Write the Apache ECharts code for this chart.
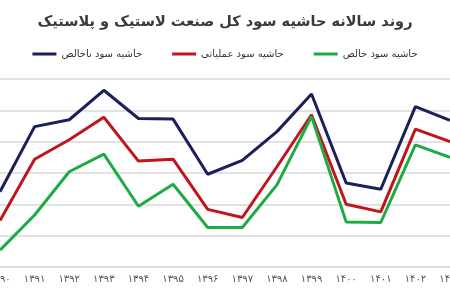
<!DOCTYPE html>
<html>
<head>
<meta charset="utf-8">
<script src="https://cdn.jsdelivr.net/npm/echarts@6/dist/echarts.min.js"></script>
<style>
  html, body { margin: 0; padding: 0; background: #fff; }
  #chart { width: 450px; height: 300px; }
</style>
</head>
<body>
<div id="chart"></div>
<script>
// years on the x axis (Persian digits)
var years = ['۱۳۹۰', '۱۳۹۱', '۱۳۹۲', '۱۳۹۳', '۱۳۹۴', '۱۳۹۵', '۱۳۹۶', '۱۳۹۷', '۱۳۹۸', '۱۳۹۹', '۱۴۰۰', '۱۴۰۱', '۱۴۰۲', '۱۴۰۳'];

// margins (percent, estimated)
var grossMargin = [12.0, 22.4, 23.5, 28.2, 23.7, 23.6, 14.8, 17.0, 21.6, 27.6, 13.4, 12.4, 25.6, 23.4];
var operatingMargin = [7.4, 17.2, 20.3, 23.9, 16.9, 17.2, 9.2, 7.9, 16.0, 24.3, 10.0, 8.8, 22.0, 20.0];
var netMargin = [2.7, 8.3, 15.2, 18.0, 9.7, 13.2, 6.3, 6.3, 13.1, 24.0, 7.2, 7.1, 19.5, 17.5];

var seriesNames = ['حاشیه سود ناخالص', 'حاشیه سود عملیاتی', 'حاشیه سود خالص'];
var seriesColors = ['#1b1f5c', '#c0151d', '#1eab44'];

var chart = echarts.init(document.getElementById('chart'));

var font = 'DejaVu Sans';

function makeLine(name, values, color) {
  return {
    name: name,
    type: 'line',
    data: values,
    symbol: 'none',
    lineStyle: { width: 3, color: color },
    itemStyle: { color: color }
  };
}

var option = {
  backgroundColor: '#fff',
  animation: false,
  title: {
    text: 'روند سالانه حاشیه سود کل صنعت لاستیک و پلاستیک',
    left: 'center',
    top: 10,
    textStyle: {
      fontFamily: font,
      fontSize: 14.5,
      fontWeight: 'bold',
      color: '#3a3a3a'
    }
  },
  legend: {
    data: seriesNames,
    top: 44,
    left: 'center',
    itemWidth: 24,
    itemHeight: 3,
    itemGap: 30,
    icon: 'rect',
    textStyle: { fontFamily: font, fontSize: 10, color: '#333' }
  },
  grid: { left: 0, right: 0, top: 79, bottom: 33, outerBoundsMode: 'none', containLabel: false },
  xAxis: {
    type: 'category',
    data: years,
    boundaryGap: false,
    axisLine: { lineStyle: { color: '#d9d9d9', width: 1.5 } },
    axisTick: { show: false },
    axisLabel: { fontFamily: font, fontSize: 10, color: '#555', margin: 7, interval: 0 }
  },
  yAxis: {
    type: 'value',
    min: 0,
    max: 30,
    interval: 5,
    axisLabel: { show: false },
    axisLine: { show: false },
    axisTick: { show: false },
    splitLine: { lineStyle: { color: '#d9d9d9', width: 1.5 } }
  },
  series: [
    makeLine(seriesNames[0], grossMargin, seriesColors[0]),
    makeLine(seriesNames[1], operatingMargin, seriesColors[1]),
    makeLine(seriesNames[2], netMargin, seriesColors[2])
  ]
};

chart.setOption(option);
</script>
</body>
</html>
